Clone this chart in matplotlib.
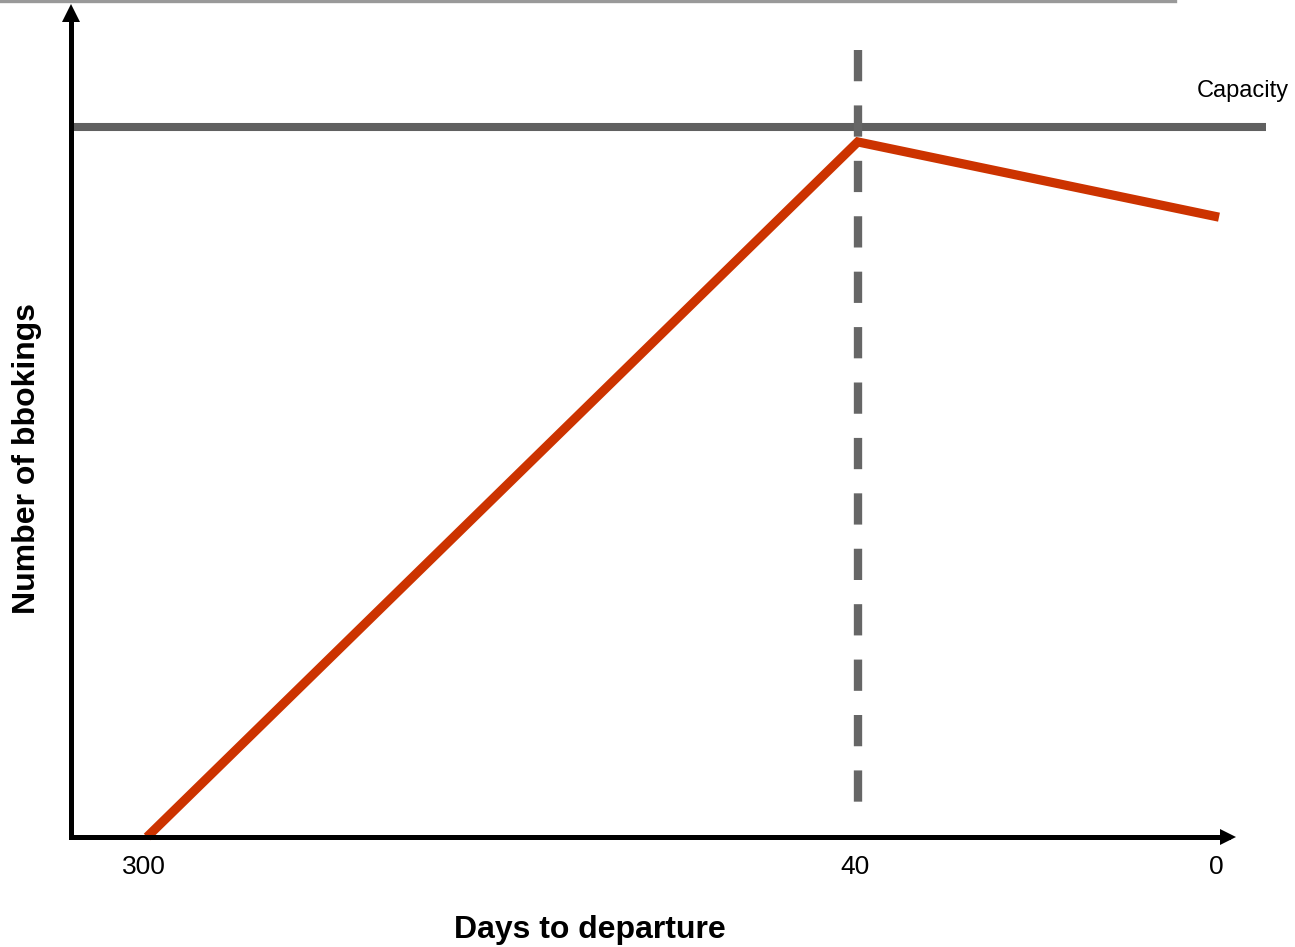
import matplotlib
matplotlib.use("Agg")
import matplotlib.pyplot as plt
import matplotlib.transforms as mtransforms
from matplotlib.lines import Line2D

matplotlib.rcParams["font.family"] = ["Liberation Sans", "DejaVu Sans"]

# data
days = [300, 40, 0]
x_pos = [0, 0.663, 1]      # uneven spacing of the day axis as drawn
bookings = [0, 97.9, 87.3]
capacity = 100
cut_day_pos = 0.663        # dashed marker at 40 days

W, H = 1295, 947
fig = plt.figure(figsize=(W / 100, H / 100), dpi=100)
ax_l, ax_r, ax_b, ax_t = 71, 1266, 837, 5
ax = fig.add_axes([ax_l / W, (H - ax_b) / H, (ax_r - ax_l) / W, (ax_b - ax_t) / H])

unit = 1072.0
ax.set_xlim(-(147 - ax_l) / unit, (ax_r - 147) / unit)
ax.set_ylim(0, (ax_b - ax_t) / 710 * capacity)

for s in ax.spines.values():
    s.set_visible(False)
ax.set_yticks([])
ax.set_xticks(x_pos)
ax.set_xticklabels([str(d) for d in days], fontsize=19)
ax.tick_params(axis="x", length=0, pad=13)
shift = mtransforms.ScaledTranslation(-3 / 100, 0, fig.dpi_scale_trans)
for lbl in ax.get_xticklabels():
    lbl.set_transform(lbl.get_transform() + shift)

# capacity line
ax.axhline(capacity, color="#606060", lw=5.8, zorder=2)
fig.text(1289 / W, 1 - 91 / H, "Capacity", ha="right", va="center", fontsize=17)

# dashed vertical at 40 days
ax.plot([cut_day_pos, cut_day_pos], [(837 - 50) / 7.10, (837 - 811) / 7.10],
        color="#666666", lw=6, dashes=(3.75, 2.9), solid_capstyle="butt",
        dash_capstyle="butt", zorder=3)

# bookings
ax.plot(x_pos, bookings, color="#CC3300", lw=6.6, solid_capstyle="butt",
        solid_joinstyle="miter", zorder=4, clip_on=False)

# axes with arrow heads
span_w = ax_r - ax_l
span_h = ax_b - ax_t
y_tip = 1 - 8.5 / span_h
x_tip = (1227.5 - ax_l) / span_w
ax.plot([0, 0], [0, y_tip], transform=ax.transAxes, color="black", lw=3.6,
        solid_capstyle="projecting", clip_on=False, zorder=5)
ax.plot([0, x_tip], [0, 0], transform=ax.transAxes, color="black", lw=3.6,
        solid_capstyle="projecting", clip_on=False, zorder=5)
ax.plot([0], [y_tip], transform=ax.transAxes, marker="^", ms=12.5, mew=0,
        color="black", clip_on=False, zorder=5)
ax.plot([x_tip], [0], transform=ax.transAxes, marker=">", ms=11.5, mew=0,
        color="black", clip_on=False, zorder=5)

fig.text(590 / W, 1 - 930 / H, "Days to departure", ha="center", va="center",
         fontsize=23, fontweight="bold")
fig.text(27 / W, 1 - 459 / H, "Number of bbokings", ha="center", va="center",
         rotation=90, fontsize=23, fontweight="bold")

# thin grey rule at the very top
fig.add_artist(Line2D([0, 1175 / W], [1 - 1.5 / H, 1 - 1.5 / H],
                      color="#999999", lw=2.4, transform=fig.transFigure))

fig.savefig("out.png", dpi=100)
